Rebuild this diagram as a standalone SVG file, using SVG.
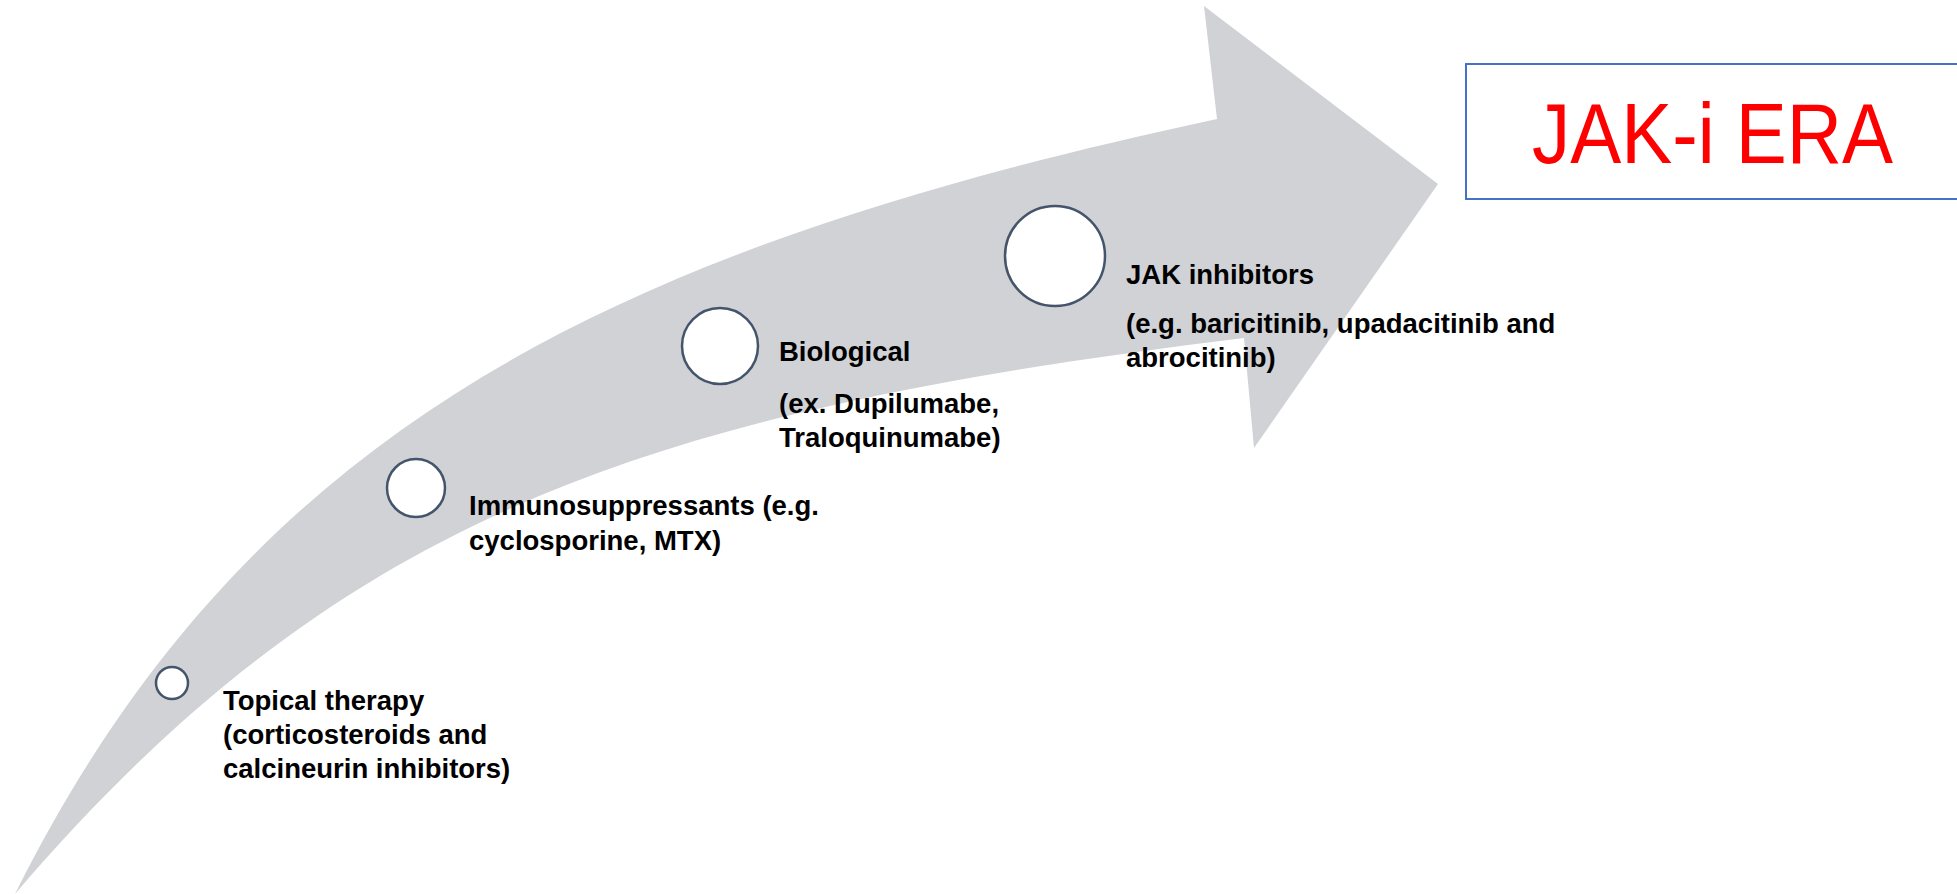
<svg xmlns="http://www.w3.org/2000/svg" width="1957" height="894" viewBox="0 0 1957 894">
  <style>
    .lbl { font-family: "Liberation Sans", Arial, sans-serif; font-weight: bold; font-size: 27.5px; fill: #000; }
    .dot { fill: #ffffff; stroke: #44546A; stroke-width: 2.5; }
    .era { font-family: "Liberation Sans", Arial, sans-serif; font-size: 85px; fill: #FF0000; }
  </style>
  <rect width="1957" height="894" fill="#ffffff"/>
  <g id="connectors">
    <path id="big-arrow" d="M15,894 C247,429 611,249 1217,119 L1204,6 L1438,184 L1254,448 L1244,338 C648,411 340,514 15,894 Z" fill="#D0D2D6"/>
  </g>
  <g id="node-topical">
    <circle class="dot" cx="172" cy="683" r="16"/>
    <text class="lbl" x="223" y="710">Topical therapy</text>
    <text class="lbl" x="223" y="744">(corticosteroids and</text>
    <text class="lbl" x="223" y="778">calcineurin inhibitors)</text>
  </g>
  <g id="node-immuno">
    <circle class="dot" cx="416" cy="488" r="29"/>
    <text class="lbl" x="469" y="515">Immunosuppressants (e.g.</text>
    <text class="lbl" x="469" y="550">cyclosporine, MTX)</text>
  </g>
  <g id="node-biological">
    <circle class="dot" cx="720" cy="346" r="38"/>
    <text class="lbl" x="779" y="361">Biological</text>
    <text class="lbl" x="779" y="413">(ex. Dupilumabe,</text>
    <text class="lbl" x="779" y="447">Traloquinumabe)</text>
  </g>
  <g id="node-jak">
    <circle class="dot" cx="1055" cy="256" r="50"/>
    <text class="lbl" x="1126" y="284">JAK inhibitors</text>
    <text class="lbl" x="1126" y="333">(e.g. baricitinib, upadacitinib and</text>
    <text class="lbl" x="1126" y="367">abrocitinib)</text>
  </g>
  <g id="node-era">
    <rect x="1466" y="64" width="520" height="135" fill="#ffffff" stroke="#4472C4" stroke-width="2"/>
    <text class="era" x="1532" y="163" textLength="361" lengthAdjust="spacingAndGlyphs">JAK-i ERA</text>
  </g>
</svg>
